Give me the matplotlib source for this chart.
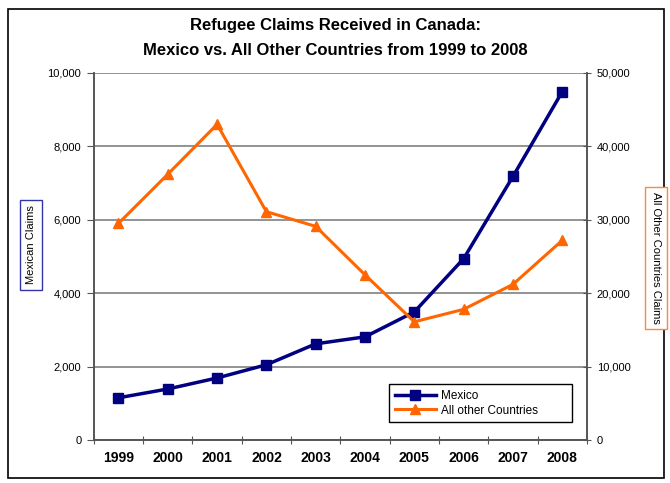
import numpy as np
import matplotlib.pyplot as plt
from matplotlib.patches import Rectangle

plt.rcParams['font.family'] = ['Liberation Sans', 'DejaVu Sans']

years = ['1999', '2000', '2001', '2002', '2003', '2004', '2005', '2006', '2007', '2008']
mexico = [1150, 1390, 1690, 2050, 2620, 2810, 3490, 4940, 7180, 9490]
others = [29500, 36200, 43000, 31100, 29100, 22500, 16100, 17800, 21200, 27200]

fig = plt.figure(figsize=(6.7, 4.83), dpi=100)
ax = fig.add_axes([0.140, 0.089, 0.736, 0.760])
ax2 = ax.twinx()

x = np.arange(len(years))
l1, = ax.plot(x, mexico, color='#000080', lw=2.5, marker='s', ms=7, label='Mexico')
l2, = ax2.plot(x, others, color='#FF6600', lw=2.2, marker='^', ms=7, label='All other Countries')

ax.set_xlim(-0.5, len(years) - 0.5)
ax.set_ylim(0, 10000)
ax2.set_ylim(0, 50000)
ax.set_yticks(np.arange(0, 10001, 2000))
ax2.set_yticks(np.arange(0, 50001, 10000))
ax.set_yticklabels(['0'] + ['{:,}'.format(v) for v in range(2000, 10001, 2000)], fontsize=8)
ax2.set_yticklabels(['0'] + ['{:,}'.format(v) for v in range(10000, 50001, 10000)], fontsize=8)
ax.yaxis.grid(True, color='#808080', lw=1.2)
ax.set_axisbelow(True)

# category axis: ticks between categories, labels at centers
ax.set_xticks(np.arange(-0.5, len(years), 1.0))
ax.set_xticklabels([])
ax.set_xticks(x, minor=True)
ax.set_xticklabels(years, minor=True, fontsize=10, fontweight='bold')
ax.tick_params(axis='x', which='major', direction='inout', length=6, color='#555555')
ax.tick_params(axis='x', which='minor', length=0, pad=8)
ax.tick_params(axis='y', direction='out', length=5, color='#555555', pad=4)
ax2.tick_params(axis='y', direction='inout', length=6, color='#555555', pad=4)

for a in (ax, ax2):
    a.spines['top'].set_visible(False)
    for s in ('left', 'right', 'bottom'):
        a.spines[s].set_color('#555555')
        a.spines[s].set_linewidth(1.2)

ax2.legend(handles=[l1, l2], loc='center left', bbox_to_anchor=(0.586, 0.046, 0.396, 0.109),
           mode='expand', fontsize=8.5, frameon=True, fancybox=False, edgecolor='black',
           handlelength=3.5, borderpad=0.5, labelspacing=0.25, framealpha=1, handletextpad=0.4)

fig.text(0.5, 0.948, 'Refugee Claims Received in Canada:', ha='center', va='center',
         fontsize=12, fontweight='bold')
fig.text(0.5, 0.896, 'Mexico vs. All Other Countries from 1999 to 2008', ha='center',
         va='center', fontsize=12, fontweight='bold')

fig.text(31 / 670, 1 - 245 / 483, 'Mexican Claims', rotation=90, ha='center', va='center',
         fontsize=8, bbox=dict(boxstyle='square,pad=0.5', fc='white', ec='#3333aa'))
fig.text(656 / 670, 1 - 258 / 483, 'All Other Countries Claims', rotation=-90, ha='center',
         va='center', fontsize=8, bbox=dict(boxstyle='square,pad=0.5', fc='white', ec='#FF8833'))

fig.patches.append(Rectangle((8 / 670, 1 - 478 / 483), 656 / 670, 469 / 483,
                             transform=fig.transFigure, fill=False, ec='black', lw=1.2))

fig.savefig('out.png', dpi=100)
